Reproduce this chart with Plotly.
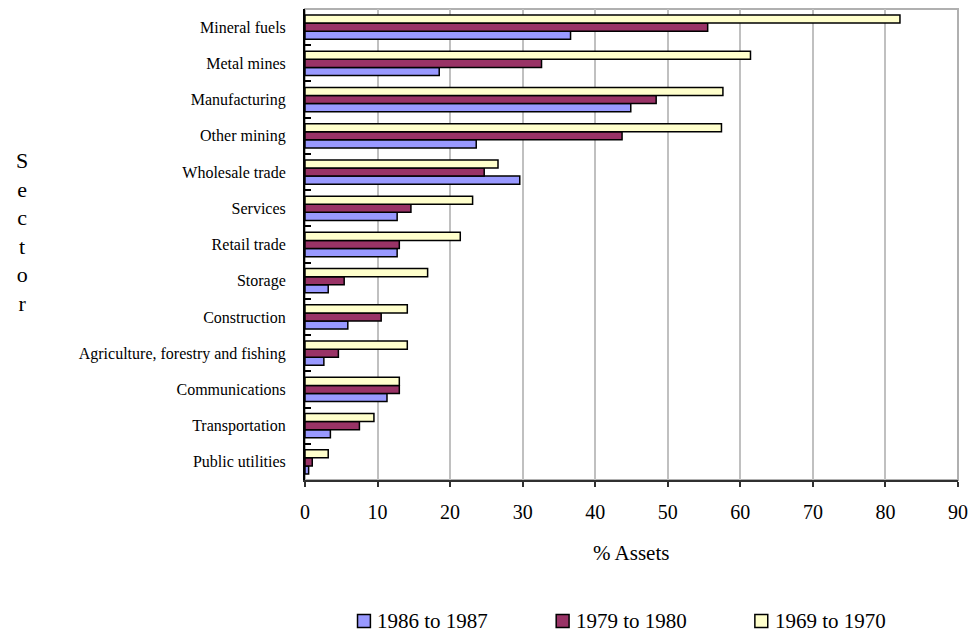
import plotly.graph_objects as go

sectors = [
    "Mineral fuels", "Metal mines", "Manufacturing", "Other mining",
    "Wholesale trade", "Services", "Retail trade", "Storage",
    "Construction", "Agriculture, forestry and fishing", "Communications",
    "Transportation", "Public utilities",
]
v_1986 = [36.6, 18.5, 44.9, 23.6, 29.6, 12.7, 12.7, 3.2, 5.9, 2.6, 11.3, 3.5, 0.5]
v_1979 = [55.5, 32.6, 48.4, 43.7, 24.7, 14.6, 13.0, 5.4, 10.5, 4.6, 13.0, 7.5, 1.0]
v_1969 = [82.0, 61.4, 57.6, 57.4, 26.6, 23.1, 21.4, 16.9, 14.1, 14.1, 13.0, 9.5, 3.2]
series_names = ["1986 to 1987", "1979 to 1980", "1969 to 1970"]
series_colors = ["#9999FF", "#993366", "#FFFFCC"]
x_ticks = [0, 10, 20, 30, 40, 50, 60, 70, 80, 90]

FONT = "Liberation Serif, Times New Roman, serif"
W, H = 977, 632
ML, MR, MT, MB = 305, 13, 9, 152
PW, PH = W - ML - MR, H - MT - MB


def px_x(x):
    return (x - ML) / PW


def px_y(y):
    return (H - MB - y) / PH


fig = go.Figure()
for name, vals, col in zip(series_names, [v_1986, v_1979, v_1969], series_colors):
    fig.add_trace(go.Bar(
        y=sectors, x=vals, name=name, orientation="h",
        marker=dict(color=col, line=dict(color="black", width=1.5)),
    ))

shapes = [dict(
    type="rect", xref="x domain", yref="y domain", x0=0, x1=1, y0=0, y1=1,
    line=dict(color="#B0B0B0", width=2), layer="below",
)]
annotations = [
    dict(text="% Assets", x=px_x(634), y=px_y(553), xref="paper", yref="paper",
         xanchor="center", yanchor="middle", showarrow=False,
         font=dict(size=21, family=FONT)),
    dict(text="S<br>e<br>c<br>t<br>o<br>r", x=px_x(19), y=px_y(232),
         xref="paper", yref="paper", xanchor="center", yanchor="middle",
         showarrow=False, font=dict(size=22, family=FONT), align="center"),
]

# legend drawn as boxes + labels
leg_x0 = 358
leg_step = 200.5
leg_y = 621
box = 13
for i, (name, col) in enumerate(zip(series_names, series_colors)):
    bx = leg_x0 + i * leg_step
    shapes.append(dict(
        type="rect", xref="paper", yref="paper",
        x0=px_x(bx), x1=px_x(bx + box), y0=px_y(leg_y + box / 2), y1=px_y(leg_y - box / 2),
        fillcolor=col, line=dict(color="black", width=1.5),
    ))
    annotations.append(dict(
        text=name, x=px_x(bx + box + 5), y=px_y(leg_y), xref="paper", yref="paper",
        xanchor="left", yanchor="middle", showarrow=False,
        font=dict(size=21, family=FONT),
    ))

fig.update_layout(
    width=W, height=H,
    margin=dict(l=ML, r=MR, t=MT, b=MB),
    paper_bgcolor="white", plot_bgcolor="white",
    barmode="group", bargap=0.33, bargroupgap=0,
    font=dict(family=FONT, color="black"),
    showlegend=False,
    shapes=shapes,
    annotations=annotations,
)

fig.update_xaxes(
    range=[0, 90], tickvals=x_ticks, ticktext=[str(t) for t in x_ticks],
    showgrid=True, gridcolor="#C0C0C0", gridwidth=2,
    showline=True, linecolor="#303030", linewidth=2,
    ticks="outside", ticklen=5, tickcolor="#303030", tickwidth=1.5,
    tickfont=dict(size=20, family=FONT), ticklabelstandoff=8,
    zeroline=False, fixedrange=True,
)
fig.update_yaxes(
    categoryorder="array", categoryarray=sectors[::-1],
    showgrid=False, showline=True, linecolor="black", linewidth=2,
    ticks="inside", tickson="boundaries", ticklen=6, tickcolor="black", tickwidth=1.5,
    tickfont=dict(size=16, family=FONT), ticklabelstandoff=14,
    fixedrange=True,
)

fig.write_html("out.html")
